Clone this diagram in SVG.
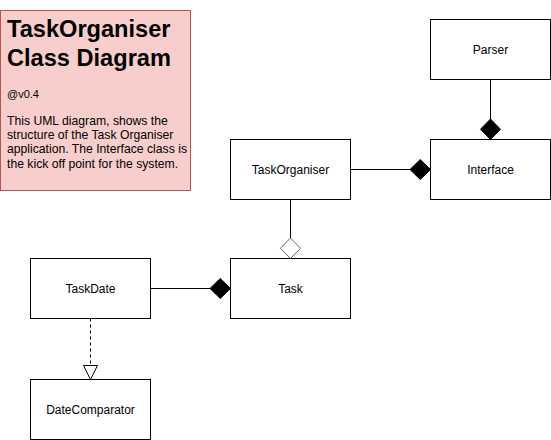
<svg xmlns="http://www.w3.org/2000/svg" width="551" height="440" viewBox="0 0 551 440">
<style>
.box{fill:#fff;stroke:#000;stroke-width:1}
.lbl{font-family:"Liberation Sans",Arial,sans-serif;font-size:12px;fill:#000;text-anchor:middle}
.ln{stroke:#000;stroke-width:1;fill:none}
.t{font-family:"Liberation Sans",Arial,sans-serif;fill:#000}
</style>
<rect width="551" height="440" fill="#fff"/>
<g id="note">
<rect x="0.5" y="10.5" width="190" height="180" fill="#f8cecc" stroke="#b85450"/>
<text class="t" x="7" y="37" font-size="23.6" font-weight="bold">TaskOrganiser</text>
<text class="t" x="7" y="65.5" font-size="23.6" font-weight="bold">Class Diagram</text>
<text class="t" x="7" y="98" font-size="11">@v0.4</text>
<text class="t" x="7" y="124.5" font-size="12.2">This UML diagram, shows the</text>
<text class="t" x="7" y="139" font-size="12.2">structure of the Task Organiser</text>
<text class="t" x="7" y="153.3" font-size="12.2">application. The Interface class is</text>
<text class="t" x="7" y="167.6" font-size="12.2">the kick off point for the system.</text>
</g>
<g id="parser"><rect class="box" x="430.5" y="19.5" width="120" height="60"/><text class="lbl" x="490.5" y="53.5">Parser</text></g>
<g id="interface"><rect class="box" x="430.5" y="139.5" width="120" height="60"/><text class="lbl" x="490.5" y="173.5">Interface</text></g>
<g id="taskorganiser"><rect class="box" x="230.5" y="139.5" width="120" height="60"/><text class="lbl" x="290.5" y="173.5">TaskOrganiser</text></g>
<g id="task"><rect class="box" x="230.5" y="258.5" width="120" height="60"/><text class="lbl" x="290.5" y="292.5">Task</text></g>
<g id="taskdate"><rect class="box" x="30.5" y="258.5" width="120" height="60"/><text class="lbl" x="90.5" y="292.5">TaskDate</text></g>
<g id="datecomparator"><rect class="box" x="30.5" y="379.5" width="120" height="60"/><text class="lbl" x="90.5" y="413.5">DateComparator</text></g>
<g id="connectors">
<path class="ln" d="M490.5 79.5V119"/>
<path d="M490.5 139.5L500.5 129.25L490.5 119L480.5 129.25Z" fill="#000" stroke="#000"/>
<path class="ln" d="M350.5 169.5H410"/>
<path d="M430.5 169.5L420.25 179.5L410 169.5L420.25 159.5Z" fill="#000" stroke="#000"/>
<path class="ln" d="M290.5 199.5V238"/>
<path d="M290.5 258.5L300.5 248.25L290.5 238L280.5 248.25Z" fill="#fff" stroke="#666"/>
<path class="ln" d="M150.5 288.5H210"/>
<path d="M230.5 288.5L220.25 298.5L210 288.5L220.25 278.5Z" fill="#000" stroke="#000"/>
<path class="ln" d="M90.5 318.5V365" stroke-dasharray="3 3"/>
<path d="M90.5 379.5L97.5 365.5H83.5Z" fill="#fff" stroke="#000"/>
</g>
</svg>
